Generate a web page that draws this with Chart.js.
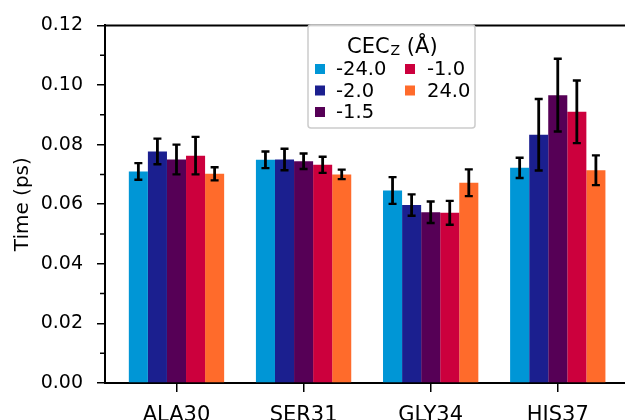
<!DOCTYPE html>
<html><head><meta charset="utf-8">
<script src="https://cdn.jsdelivr.net/npm/chart.js@4/dist/chart.umd.min.js"></script>
<style>html,body{margin:0;padding:0;background:#fff;overflow:hidden}</style>
</head><body>
<canvas id="c" width="625" height="420"></canvas>
<script>
const categories = ['ALA30', 'SER31', 'GLY34', 'HIS37'];
const seriesLabels = ['-24.0', '-2.0', '-1.5', '-1.0', '24.0'];
const seriesColors = ['#0096D6', '#1B1F8F', '#560056', '#CC003D', '#FF6B2B'];
const valuesM24 = [0.0710, 0.0749, 0.0646, 0.0722];
const errM24    = [0.0028, 0.0028, 0.0045, 0.0034];
const valuesM2  = [0.0777, 0.0750, 0.0597, 0.0833];
const errM2     = [0.0043, 0.0036, 0.0036, 0.0120];
const valuesM15 = [0.0750, 0.0744, 0.0573, 0.0966];
const errM15    = [0.0050, 0.0026, 0.0036, 0.0122];
const valuesM1  = [0.0763, 0.0732, 0.0571, 0.0910];
const errM1     = [0.0063, 0.0027, 0.0040, 0.0105];
const valuesP24 = [0.0702, 0.0700, 0.0672, 0.0714];
const errP24    = [0.0022, 0.0016, 0.0045, 0.0050];
const yTicks = [0, 0.02, 0.04, 0.06, 0.08, 0.10, 0.12];
const yMinorTicks = [0.01, 0.03, 0.05, 0.07, 0.09, 0.11];
const legendTitle = 'CEC';
const legendSub = 'Z';
const legendTitleTail = ' (Å)';
const yTitle = 'Time (ps)';

const FONT = '"DejaVu Sans", sans-serif';
const allValues = [valuesM24, valuesM2, valuesM15, valuesM1, valuesP24];
const allErrors = [errM24, errM2, errM15, errM1, errP24];

const datasets = allValues.map((vals, k) => ({
  label: seriesLabels[k],
  data: vals.map((v, i) => ({x: i, y: v})),
  errors: allErrors[k],
  backgroundColor: seriesColors[k],
  borderWidth: 0,
  categoryPercentage: 0.75,
  barPercentage: 1.0
}));

const errPlugin = {
  id: 'errbars',
  afterDatasetsDraw(chart) {
    const ctx = chart.ctx, ys = chart.scales.y;
    chart.data.datasets.forEach((ds, di) => {
      const meta = chart.getDatasetMeta(di);
      meta.data.forEach((bar, i) => {
        const v = ds.data[i].y, e = ds.errors[i];
        const x = bar.x;
        const y1 = ys.getPixelForValue(v + e), y2 = ys.getPixelForValue(v - e);
        ctx.save();
        ctx.strokeStyle = '#000';
        ctx.lineWidth = 2.8;
        ctx.beginPath(); ctx.moveTo(x, y1); ctx.lineTo(x, y2); ctx.stroke();
        ctx.lineWidth = 2.4;
        ctx.beginPath();
        ctx.moveTo(x - 4, y1); ctx.lineTo(x + 4, y1);
        ctx.moveTo(x - 4, y2); ctx.lineTo(x + 4, y2);
        ctx.stroke();
        ctx.restore();
      });
    });
  }
};

const framePlugin = {
  id: 'frame',
  afterDraw(chart) {
    const ctx = chart.ctx, ca = chart.chartArea, ys = chart.scales.y;
    ctx.save();
    ctx.strokeStyle = '#000';
    ctx.lineWidth = 2;
    ctx.beginPath(); ctx.moveTo(ca.left - 1, ca.top); ctx.lineTo(ca.right, ca.top); ctx.stroke();
    ctx.lineWidth = 1.5;
    ctx.beginPath();
    yMinorTicks.forEach(t => {
      const y = ys.getPixelForValue(t);
      ctx.moveTo(ca.left - 5, y); ctx.lineTo(ca.left, y);
    });
    ctx.stroke();
    // legend
    const bx = 308, by = 25, bw = 167, bh = 103;
    ctx.fillStyle = 'rgba(255,255,255,0.85)';
    ctx.strokeStyle = '#cccccc';
    ctx.lineWidth = 1.5;
    ctx.beginPath();
    ctx.roundRect(bx, by, bw, bh, 3);
    ctx.fill(); ctx.stroke();
    ctx.fillStyle = '#000';
    ctx.textBaseline = 'alphabetic';
    ctx.textAlign = 'left';
    ctx.font = '21px ' + FONT;
    let tx = 347;
    ctx.fillText(legendTitle, tx, 53);
    tx += ctx.measureText(legendTitle).width + 1;
    ctx.font = '14px ' + FONT;
    ctx.fillText(legendSub, tx, 55);
    tx += ctx.measureText(legendSub).width;
    ctx.font = '21px ' + FONT;
    ctx.fillText(legendTitleTail, tx, 53);
    const rows = [69, 90.5, 112];
    const cols = [{sx: 315, tx: 336}, {sx: 405, tx: 427}];
    ctx.font = '19.5px ' + FONT;
    ctx.textBaseline = 'middle';
    seriesLabels.forEach((lab, k) => {
      const c = k < 3 ? 0 : 1, r = k < 3 ? k : k - 3;
      ctx.fillStyle = seriesColors[k];
      ctx.fillRect(cols[c].sx, rows[r] - 5, 10, 10);
      ctx.fillStyle = '#000';
      ctx.fillText(lab, cols[c].tx, rows[r] + 1);
    });
    ctx.restore();
  }
};

new Chart(document.getElementById('c'), {
  type: 'bar',
  data: { datasets },
  options: {
    responsive: false,
    animation: false,
    layout: { padding: { top: 22, left: 0, right: 0, bottom: 0 } },
    plugins: { legend: { display: false }, tooltip: { enabled: false } },
    scales: {
      x: {
        type: 'linear',
        offset: false,
        min: -0.5625,
        max: 3.529,
        afterBuildTicks: s => { s.ticks = categories.map((c, i) => ({value: i})); },
        afterFit: s => { s.height = 37; },
        ticks: {
          autoSkip: false,
          maxRotation: 0,
          padding: 11,
          color: '#000',
          font: { family: FONT, size: 21 },
          callback: v => categories[v]
        },
        grid: { offset: false, drawOnChartArea: false, drawTicks: true, tickLength: 9, color: '#000', lineWidth: 1.5 },
        border: { display: true, color: '#000', width: 2 }
      },
      y: {
        min: 0,
        max: 0.12,
        afterBuildTicks: s => { s.ticks = yTicks.map(v => ({value: v})); },
        afterFit: s => { s.width = 105; },
        ticks: {
          padding: 14,
          color: '#000',
          font: { family: FONT, size: 19 },
          callback: v => Number(v).toFixed(2)
        },
        grid: { drawOnChartArea: false, drawTicks: true, tickLength: 8, color: '#000', lineWidth: 1.5 },
        border: { display: true, color: '#000', width: 2 },
        title: { display: true, text: yTitle, color: '#000', font: { family: FONT, size: 20 }, padding: { top: 11, bottom: 0 } }
      }
    }
  },
  plugins: [errPlugin, framePlugin]
});
</script>
</body></html>
